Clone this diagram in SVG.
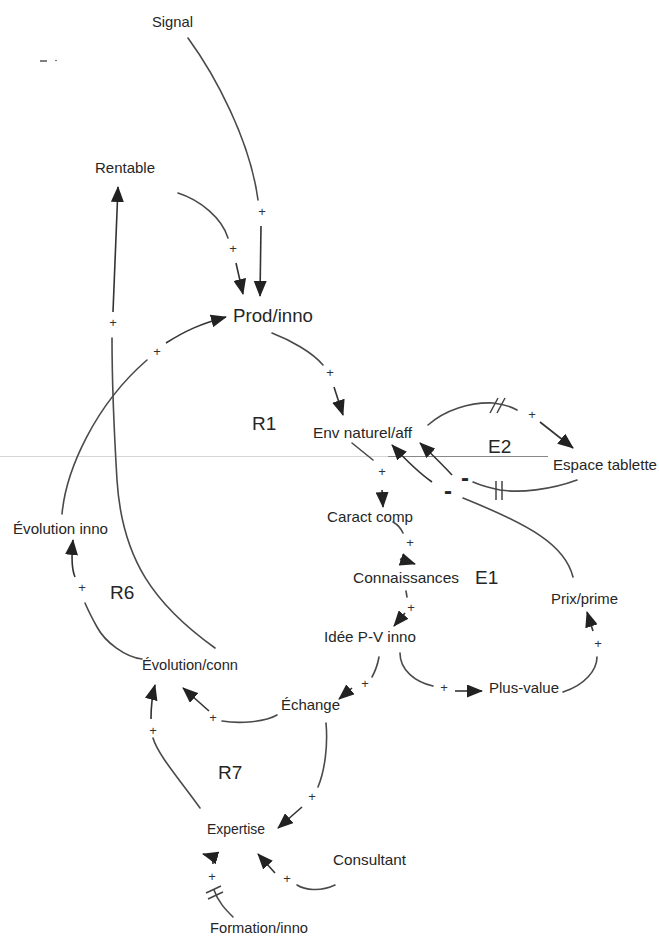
<svg xmlns="http://www.w3.org/2000/svg" width="659" height="938" viewBox="0 0 659 938">
<defs>
<marker id="ah" markerUnits="userSpaceOnUse" markerWidth="16" markerHeight="13" refX="15" refY="6.5" orient="auto">
<path d="M0,0 L16,6.5 L0,13 z" fill="#222"/>
</marker>
<style>
.c{fill:none;stroke:#4a4a4a;stroke-width:1.6;stroke-linecap:round}
.a{fill:none;stroke:#333;stroke-width:1.6;marker-end:url(#ah)}
.d{stroke:#444;stroke-width:1.5}
text{font-family:"Liberation Sans",Arial,sans-serif;fill:#262626}
.l{font-size:15px}
.b{font-size:19px}
.p{font-size:13px;text-anchor:middle;fill:#333}
.m{font-size:24px;font-weight:bold;text-anchor:middle}
</style>
</defs>
<rect width="659" height="938" fill="#fff"/>
<line x1="0" y1="456.5" x2="388" y2="456.5" stroke="#d6d6d6" stroke-width="1.2"/>
<line x1="388" y1="456.5" x2="548" y2="456.5" stroke="#888" stroke-width="1.2"/>
<line x1="40" y1="61" x2="47" y2="61" stroke="#555" stroke-width="1.5"/>
<circle cx="56" cy="60.5" r="0.8" fill="#555"/>

<g id="connectors">
<path class="c" d="M188,38 C215,75 250,140 258,200"/>
<text class="p" x="262" y="216">+</text>
<path class="a" d="M261,226 L260,296"/>

<path class="c" d="M178,193 C200,200 222,218 228,238"/>
<text class="p" x="233" y="253">+</text>
<path class="a" d="M236,263 L243,294"/>

<path class="c" d="M62,514 C66,470 95,405 147,360"/>
<text class="p" x="157" y="356">+</text>
<path class="a" d="M166,343 C185,331 200,324 226,317"/>

<path class="c" d="M215,648 C155,605 122,560 117,480 C114,430 112,380 112,338"/>
<text class="p" x="113" y="327">+</text>
<path class="a" d="M113,312 L118,187"/>

<path class="c" d="M142,659 C125,657 105,642 97,627 C92,618 88,610 85,603"/>
<text class="p" x="82" y="592">+</text>
<path class="a" d="M75,577 C72,570 71,560 73,540"/>

<path class="c" d="M272,333 C290,340 312,352 323,365"/>
<text class="p" x="330" y="377">+</text>
<path class="a" d="M334,387 L343,415"/>

<path class="c" d="M428,425 C445,410 470,402 493,403 C503,404 510,406 517,410"/>
<line class="d" x1="490" y1="413" x2="498" y2="398"/>
<line class="d" x1="497" y1="413" x2="505" y2="398"/>
<text class="p" x="532" y="419">+</text>
<path class="a" d="M540,422 L573,448"/>

<path class="c" d="M577,480 C550,490 520,493 500,490 C490,488 480,485 473,482"/>
<line class="d" x1="496" y1="481" x2="496" y2="500"/>
<line class="d" x1="502" y1="481" x2="502" y2="500"/>
<text class="m" x="465" y="486">-</text>
<path class="a" d="M452,475 Q440,462 420,443"/>

<path class="c" d="M573,577 C565,545 530,525 463,498"/>
<text class="m" x="448" y="499">-</text>
<path class="a" d="M432,482 Q415,470 392,445"/>

<path class="c" d="M352,443 L373,460"/>
<text class="p" x="382" y="476">+</text>
<path class="a" d="M382,490 L383,507"/>

<path class="c" d="M393,522 Q400,526 403,533"/>
<text class="p" x="410" y="547">+</text>
<path class="a" d="M400,559 L415,564"/>

<path class="c" d="M406,591 L407,597"/>
<text class="p" x="411" y="612">+</text>
<path class="a" d="M405,613 L394,626"/>

<path class="c" d="M379,657 Q377,668 372,677"/>
<text class="p" x="365" y="688">+</text>
<path class="a" d="M352,688 L339,699"/>

<path class="c" d="M400,653 C400,670 415,682 433,686"/>
<text class="p" x="444" y="692">+</text>
<path class="a" d="M455,691 L482,691"/>

<path class="c" d="M563,692 C585,685 597,670 597,657"/>
<text class="p" x="598" y="648">+</text>
<path class="a" d="M593,631 L587,612"/>

<path class="c" d="M277,715 C265,722 240,724 222,721"/>
<text class="p" x="213" y="722">+</text>
<path class="a" d="M209,711 L183,688"/>

<path class="c" d="M200,808 C180,780 158,755 153,738"/>
<text class="p" x="153" y="735">+</text>
<path class="a" d="M151,719 Q151,700 155,685"/>

<path class="c" d="M326,723 C328,745 325,770 318,787"/>
<text class="p" x="312" y="801">+</text>
<path class="a" d="M302,807 L278,828"/>

<path class="c" d="M335,885 C320,892 305,890 297,885"/>
<text class="p" x="287" y="883">+</text>
<path class="a" d="M275,873 L258,854"/>

<path class="c" d="M233,917 C226,910 218,902 214,890"/>
<line class="d" x1="206" y1="893" x2="221" y2="886"/>
<line class="d" x1="208" y1="899" x2="223" y2="892"/>
<text class="p" x="212" y="881">+</text>
<path class="a" d="M213,864 Q214,857 203,854"/>
</g>

<g id="signal"><text class="l" x="152" y="27" textLength="41" lengthAdjust="spacingAndGlyphs">Signal</text></g>
<g id="rentable"><text class="l" x="95" y="173" textLength="60" lengthAdjust="spacingAndGlyphs">Rentable</text></g>
<g id="prod-inno"><text x="233" y="322" font-size="18" textLength="80" lengthAdjust="spacingAndGlyphs">Prod/inno</text></g>
<g id="env-naturel"><text class="l" x="313" y="438" textLength="99" lengthAdjust="spacingAndGlyphs">Env naturel/aff</text></g>
<g id="espace-tablette"><text class="l" x="553" y="470" textLength="104" lengthAdjust="spacingAndGlyphs">Espace tablette</text></g>
<g id="caract-comp"><text class="l" x="327" y="522" textLength="86" lengthAdjust="spacingAndGlyphs">Caract comp</text></g>
<g id="connaissances"><text class="l" x="353" y="583" textLength="106" lengthAdjust="spacingAndGlyphs">Connaissances</text></g>
<g id="prix-prime"><text class="l" x="551" y="604" textLength="67" lengthAdjust="spacingAndGlyphs">Prix/prime</text></g>
<g id="idee"><text class="l" x="324" y="642" textLength="92" lengthAdjust="spacingAndGlyphs">Idée P-V inno</text></g>
<g id="plus-value"><text class="l" x="489" y="693" textLength="70" lengthAdjust="spacingAndGlyphs">Plus-value</text></g>
<g id="evolution-inno"><text class="l" x="13" y="534" textLength="95" lengthAdjust="spacingAndGlyphs">Évolution inno</text></g>
<g id="evolution-conn"><text class="l" x="142" y="670" textLength="96" lengthAdjust="spacingAndGlyphs">Évolution/conn</text></g>
<g id="echange"><text class="l" x="281" y="710" textLength="59" lengthAdjust="spacingAndGlyphs">Échange</text></g>
<g id="expertise"><text class="l" x="207" y="834" textLength="58" lengthAdjust="spacingAndGlyphs">Expertise</text></g>
<g id="consultant"><text class="l" x="333" y="865" textLength="73" lengthAdjust="spacingAndGlyphs">Consultant</text></g>
<g id="formation"><text class="l" x="210" y="933" textLength="98" lengthAdjust="spacingAndGlyphs">Formation/inno</text></g>

<g id="loops">
<text class="b" x="252" y="430">R1</text>
<text class="b" x="488" y="453">E2</text>
<text class="b" x="475" y="584">E1</text>
<text class="b" x="110" y="599">R6</text>
<text class="b" x="218" y="779">R7</text>
</g>
</svg>
